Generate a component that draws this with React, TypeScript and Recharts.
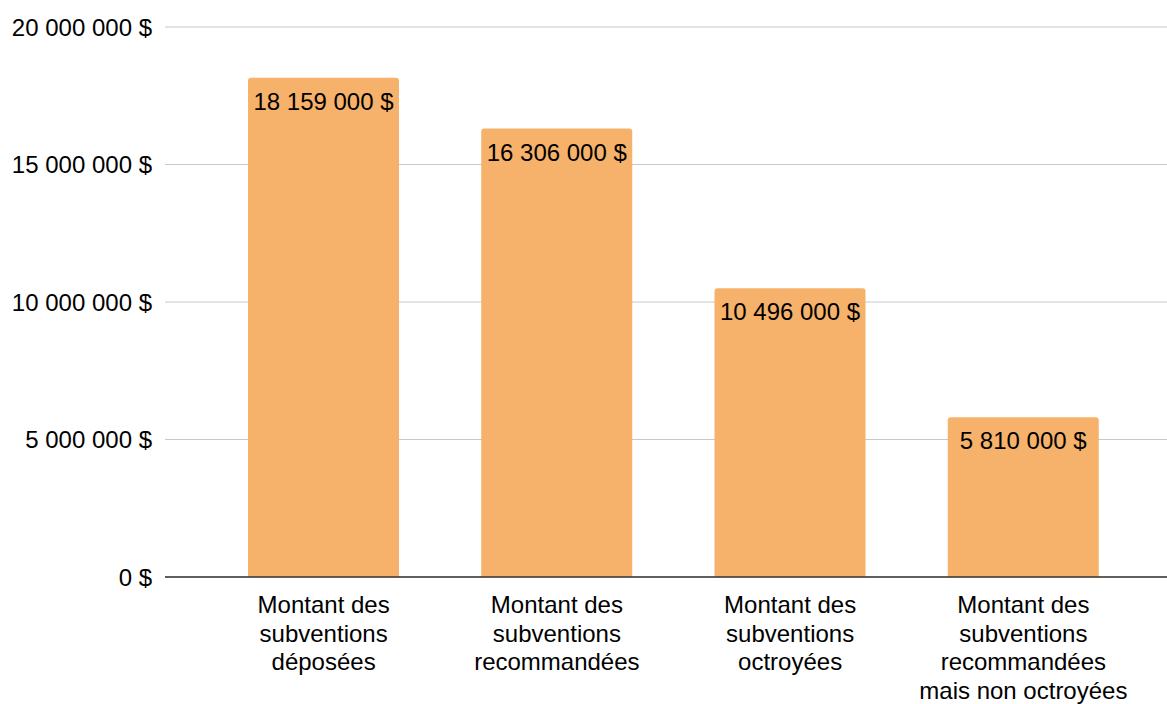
import React from "react";
import { BarChart, Bar, XAxis, YAxis, CartesianGrid, LabelList } from "recharts";

const categories = ["deposees", "recommandees", "octroyees", "nonOctroyees"];
const categoryLines: string[][] = [
  ["Montant des", "subventions", "déposées"],
  ["Montant des", "subventions", "recommandées"],
  ["Montant des", "subventions", "octroyées"],
  ["Montant des", "subventions", "recommandées", "mais non octroyées"],
];
const amounts = [18159000, 16306000, 10496000, 5810000];
const yTicks = [0, 5000000, 10000000, 15000000, 20000000];

const data = categories.map((c, i) => ({ key: c, lines: categoryLines[i], value: amounts[i] }));

const FONT = "'Liberation Sans', Arial, sans-serif";
const fmt = (v: number) => String(Math.round(v)).replace(/\B(?=(\d{3})+(?!\d))/g, " ") + " $";

const XTick = (props: any) => {
  const { x, y, payload } = props;
  const idx = categories.indexOf(payload.value);
  const lines = idx >= 0 ? categoryLines[idx] : [String(payload.value)];
  return (
    <text x={x} y={y + 36} textAnchor="middle" fill="#000" fontSize={24} fontFamily={FONT}>
      {lines.map((l, i) => (
        <tspan key={i} x={x} dy={i === 0 ? 0 : 28.5}>
          {l}
        </tspan>
      ))}
    </text>
  );
};

export default function App() {
  return (
    <div style={{ position: "absolute", left: 0, top: 0, background: "#fff" }}>
      <BarChart
        width={1167}
        height={704}
        data={data}
        margin={{ top: 27, right: 0, bottom: 0, left: 0 }}
      >
        <CartesianGrid vertical={false} stroke="#c8c8c8" strokeWidth={1} />
        <XAxis
          dataKey="key"
          height={127}
          tick={<XTick />}
          tickLine={false}
          tickSize={0}
          tickMargin={0}
          interval={0}
          padding={{ left: 42, right: 27 }}
          axisLine={{ stroke: "#333333", strokeWidth: 1.5 }}
        />
        <YAxis
          width={165}
          domain={[0, 20000000]}
          ticks={yTicks}
          tickFormatter={fmt}
          axisLine={false}
          tickLine={false}
          tickSize={0}
          tickMargin={13}
          tick={{ fill: "#000", fontSize: 24, fontFamily: FONT }}
        />
        <Bar dataKey="value" fill="#f6b26b" barSize={151} radius={[3, 3, 0, 0]} isAnimationActive={false}>
          <LabelList
            dataKey="value"
            position="insideTop"
            offset={15}
            formatter={(v: any) => fmt(Number(v))}
            fill="#000"
            fontSize={24}
            fontFamily={FONT}
          />
        </Bar>
      </BarChart>
    </div>
  );
}
